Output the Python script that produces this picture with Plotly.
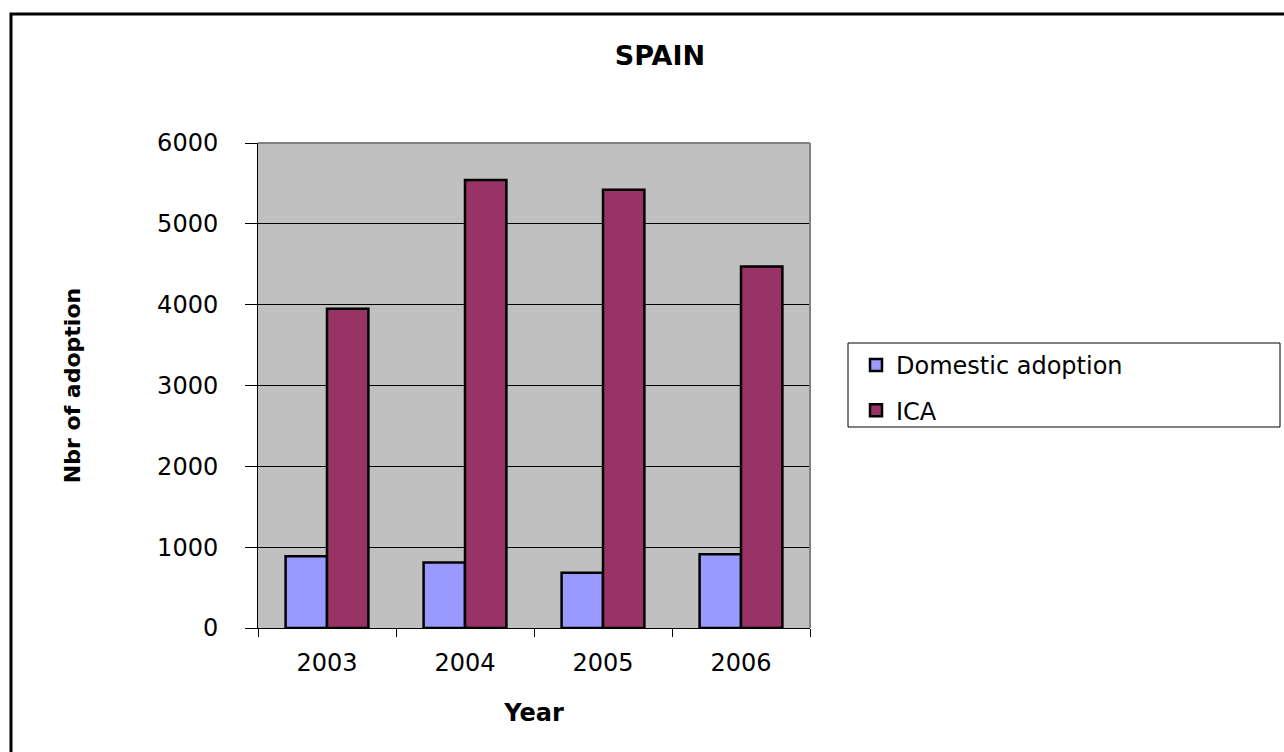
import plotly.graph_objects as go

# Adoptions in Spain by year
years = ["2003", "2004", "2005", "2006"]
domestic_adoption = [887, 809, 685, 912]
ica = [3951, 5541, 5423, 4472]
y_ticks = [0, 1000, 2000, 3000, 4000, 5000, 6000]

FONT = "DejaVu Sans"

# Plot-area geometry in pixels (figure is 1284 x 752)
W, H = 1284, 752
L, R, T, B = 258, 810, 143, 628
pw, ph = R - L, B - T


def px_x(x):
    return (x - L) / pw


def px_y(y):
    return (B - y) / ph


fig = go.Figure()
fig.add_trace(go.Bar(
    x=years, y=domestic_adoption, name="Domestic adoption",
    legendgroup="dom",
    marker=dict(color="#9999FF", line=dict(color="black", width=2.5)),
))
fig.add_trace(go.Bar(
    x=years, y=ica, name="ICA",
    legendgroup="ica",
    marker=dict(color="#993366", line=dict(color="black", width=2.5)),
))

shapes = [
    # outer chart frame
    dict(type="rect", xref="paper", yref="paper",
         x0=px_x(11), x1=px_x(1310), y0=px_y(780), y1=px_y(14),
         line=dict(color="black", width=3), layer="above"),
    # grey border of the plot area (top and right)
    dict(type="line", xref="paper", yref="paper", x0=0, x1=1, y0=1, y1=1,
         line=dict(color="#808080", width=2)),
    dict(type="line", xref="paper", yref="paper", x0=1, x1=1, y0=0, y1=1,
         line=dict(color="#808080", width=2)),
    # legend box
    dict(type="rect", xref="paper", yref="paper",
         x0=px_x(848), x1=px_x(1280), y0=px_y(427), y1=px_y(343),
         line=dict(color="black", width=1)),
]

fig.update_layout(
    width=W, height=H,
    margin=dict(l=L, r=W - R, t=T, b=H - B),
    paper_bgcolor="white",
    plot_bgcolor="#C0C0C0",
    font=dict(family=FONT, color="black"),
    barmode="group",
    bargap=0.40,
    bargroupgap=0,
    title=dict(text="<b>SPAIN</b>", x=660 / W, xanchor="center",
               y=1 - 56 / H, yanchor="middle", yref="container",
               font=dict(family=FONT, size=27, color="black")),
    xaxis=dict(
        type="category", range=[-0.5, 3.5],
        showline=True, linecolor="black", linewidth=1,
        ticks="outside", tickson="boundaries", ticklen=8, tickcolor="black",
        tickfont=dict(family=FONT, size=24, color="black"),
        ticklabelstandoff=13,
        showgrid=False,
        title=dict(text="<b>Year</b>", standoff=28,
                   font=dict(family=FONT, size=24, color="black")),
    ),
    yaxis=dict(
        range=[0, 6000], tickvals=y_ticks,
        showline=True, linecolor="black", linewidth=1,
        ticks="outside", ticklen=12, tickcolor="black",
        tickfont=dict(family=FONT, size=24, color="black"),
        ticklabelstandoff=22,
        showgrid=True, gridcolor="black", gridwidth=1,
        zeroline=False,
        title=dict(text="<b>Nbr of adoption</b>", standoff=70,
                   font=dict(family=FONT, size=22, color="black")),
    ),
    legend=dict(
        x=px_x(856), xanchor="left", y=px_y(343), yanchor="top",
        traceorder="grouped", tracegroupgap=11,
        bgcolor="rgba(0,0,0,0)", borderwidth=0,
        font=dict(family=FONT, size=24, color="black"),
    ),
    shapes=shapes,
)

fig.write_html("out.html")
